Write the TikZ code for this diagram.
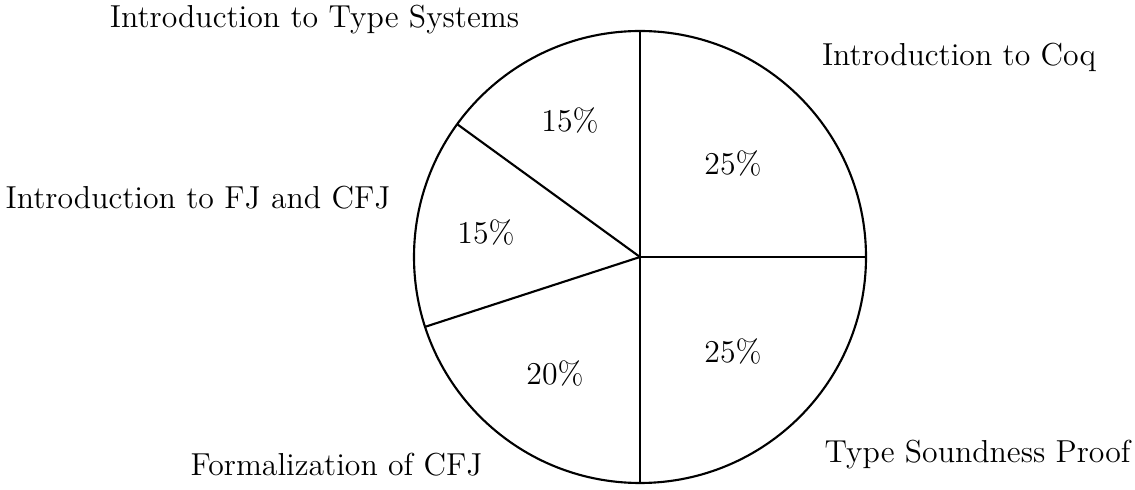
\documentclass[tikz,border=0pt]{standalone}
\begin{document}
\begin{tikzpicture}[x=0.37764pt, y=-0.37764pt,
  txt/.style={font=\large, inner sep=0pt, anchor=base},
  slice/.style={line width=0.8pt}]
\useasboundingbox (0,0) rectangle (1135,490);
% pie outline and slice borders (y axis points down, so angles run clockwise)
\coordinate (c) at (640,257);
\draw[slice] (c) circle[radius=226];
\draw[slice] (c) -- ++(-90:226);
\draw[slice] (c) -- ++(0:226);
\draw[slice] (c) -- ++(90:226);
\draw[slice] (c) -- ++(162:226);
\draw[slice] (c) -- ++(216:226);
% slice values
\node[txt] (p1) at (733,175) {25\%};
\node[txt] (p2) at (733,363) {25\%};
\node[txt] (p3) at (555,385) {20\%};
\node[txt] (p4) at (486,244) {15\%};
\node[txt] (p5) at (570,132) {15\%};
% slice names
\node[txt] (l1) at (959,66) {Introduction to Coq};
\node[txt] (l2) at (977.5,462) {Type Soundness Proof};
\node[txt] (l3) at (336.5,475) {Formalization of CFJ};
\node[txt] (l4) at (198,209) {Introduction to FJ and CFJ};
\node[txt] (l5) at (314.5,28) {Introduction to Type Systems};
\end{tikzpicture}
\end{document}
